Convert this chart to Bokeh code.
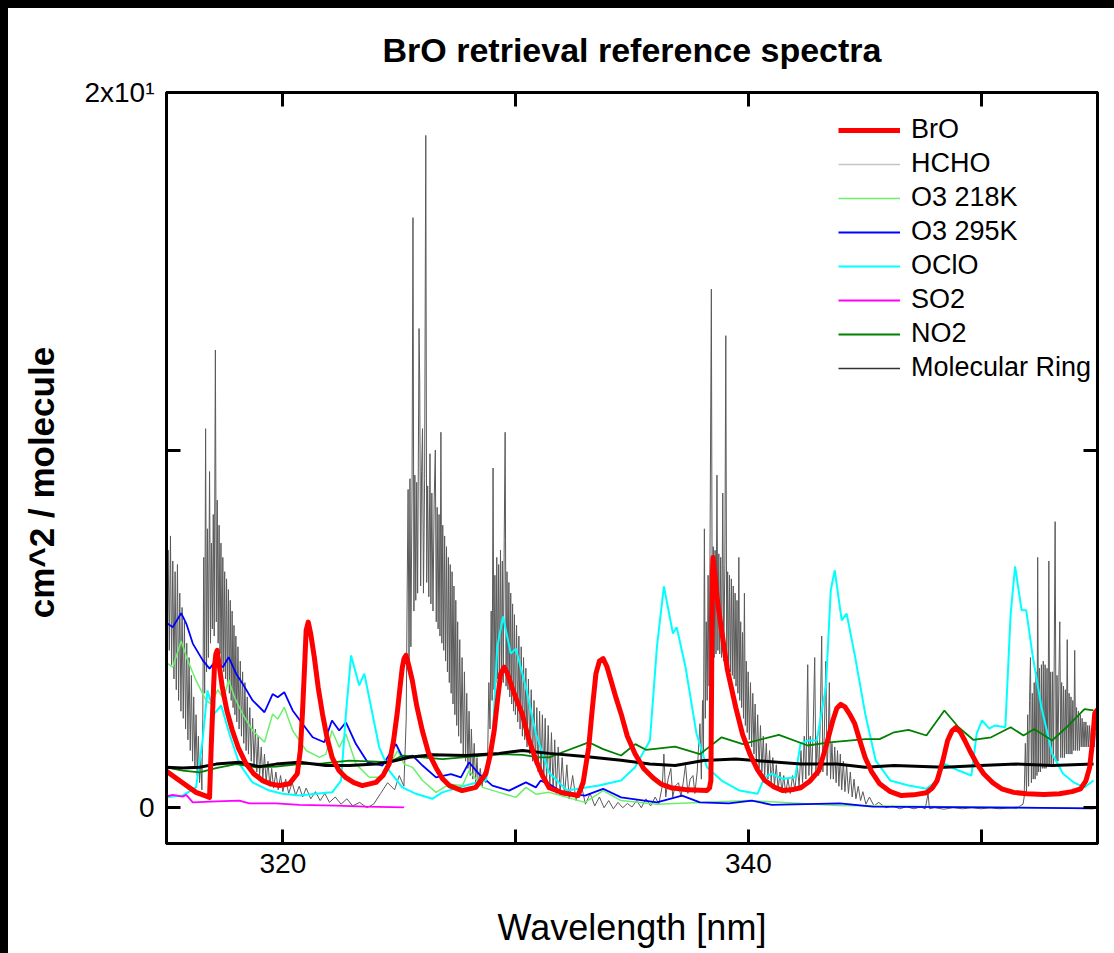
from bokeh.plotting import figure
from bokeh.models import Range1d, FixedTicker, LinearAxis, Legend, LegendItem, CustomLabelingPolicy
from bokeh.embed import file_html
from bokeh.resources import INLINE

FONT = "Liberation Sans"

# ---------------- data (wavelength nm, value) ----------------
bro = [(314.96, 1.04), (315.69, 0.70), (316.27, 0.43), (316.85, 0.29), (316.92, 1.69), (317.00, 3.0),
       (317.06, 3.93), (317.12, 4.30), (317.18, 4.40), (317.25, 4.05), (317.40, 3.36), (317.60, 2.70),
       (317.83, 2.16), (318.10, 1.65), (318.42, 1.23), (318.75, 0.95), (319.12, 0.76), (319.50, 0.66),
       (319.85, 0.62), (320.28, 0.67), (320.62, 0.95), (320.75, 1.6), (320.84, 2.63), (320.93, 3.9),
       (321.00, 4.96), (321.09, 5.19), (321.20, 4.85), (321.35, 4.21), (321.52, 3.35), (321.70, 2.63),
       (321.90, 1.95), (322.12, 1.40), (322.40, 1.05), (322.71, 0.84), (323.05, 0.70), (323.41, 0.62),
       (324.00, 0.71), (324.30, 0.90), (324.57, 1.23), (324.75, 1.85), (324.91, 2.63), (325.03, 3.35),
       (325.13, 3.92), (325.21, 4.18), (325.29, 4.26), (325.40, 4.00), (325.56, 3.56), (325.75, 2.85),
       (325.99, 2.16), (326.25, 1.55), (326.58, 1.12), (326.85, 0.82), (327.15, 0.62), (327.70, 0.48),
       (328.29, 0.57), (328.72, 0.95), (328.90, 1.45), (329.08, 2.16), (329.22, 3.0), (329.36, 3.75),
       (329.51, 3.93), (329.65, 3.75), (329.85, 3.36), (330.05, 3.0), (330.28, 2.63), (330.55, 1.95),
       (330.88, 1.32), (331.15, 0.90), (331.44, 0.56), (332.00, 0.42), (332.68, 0.34), (332.90, 0.7),
       (333.14, 1.69), (333.30, 2.80), (333.45, 3.75), (333.60, 4.10), (333.76, 4.17), (333.92, 3.95),
       (334.10, 3.55), (334.30, 3.10), (334.53, 2.63), (334.80, 2.00), (335.13, 1.51), (335.50, 1.10),
       (335.90, 0.84), (336.25, 0.66), (336.67, 0.56), (337.40, 0.50), (338.22, 0.48), (338.33, 0.55),
       (338.39, 0.76), (338.42, 3.5), (338.45, 6.5), (338.48, 7.00), (338.55, 6.6), (338.65, 5.9),
       (338.85, 4.96), (339.10, 3.85), (339.46, 2.80), (339.75, 2.05), (340.06, 1.51), (340.40, 1.05),
       (340.71, 0.76), (341.10, 0.58), (341.48, 0.48), (341.85, 0.50), (342.25, 0.56), (342.65, 0.75),
       (343.03, 1.04), (343.35, 1.75), (343.63, 2.44), (343.80, 2.78), (343.97, 2.89), (344.15, 2.82),
       (344.35, 2.62), (344.57, 2.35), (344.80, 1.85), (345.02, 1.40), (345.30, 1.00), (345.64, 0.67),
       (346.10, 0.45), (346.57, 0.34), (347.10, 0.36), (347.65, 0.42), (347.90, 0.55), (348.11, 0.76),
       (348.35, 1.30), (348.56, 1.88), (348.75, 2.15), (348.91, 2.24), (349.10, 2.12), (349.30, 1.88),
       (349.51, 1.60), (349.80, 1.25), (350.11, 0.95), (350.50, 0.70), (350.88, 0.53), (351.40, 0.43),
       (351.95, 0.39), (352.70, 0.37), (353.37, 0.39), (353.90, 0.45), (354.27, 0.53), (354.50, 0.75),
       (354.66, 1.12), (354.78, 1.8), (354.88, 2.63), (355.00, 2.75)]

hcho = [(314.97, 7.9), (315.02, 4.9), (315.07, 7.2), (315.12, 4.4), (315.17, 7.6), (315.22, 4.0),
        (315.27, 6.9), (315.32, 3.6), (315.37, 6.6), (315.42, 3.3), (315.47, 6.8), (315.52, 3.0),
        (315.57, 6.0), (315.62, 2.7), (315.67, 5.6), (315.72, 2.5), (315.77, 5.2), (315.82, 2.2),
        (315.87, 4.6), (315.92, 1.9), (315.97, 4.2), (316.02, 1.6), (316.07, 3.7), (316.12, 1.3),
        (316.17, 3.1), (316.22, 1.1), (316.27, 2.6), (316.32, 0.9), (316.37, 2.0), (316.42, 0.7),
        (316.47, 1.4), (316.52, 0.5),
        (316.56, 2.5), (316.60, 7.0), (316.64, 3.2), (316.68, 10.6), (316.72, 3.8), (316.76, 7.8),
        (316.80, 4.2), (316.85, 9.4), (316.89, 4.6), (316.93, 7.4), (316.97, 5.0), (317.01, 8.2),
        (317.05, 4.8), (317.10, 12.8), (317.14, 5.2), (317.18, 8.6), (317.22, 4.6), (317.26, 7.9),
        (317.30, 4.3), (317.34, 7.4), (317.38, 4.0), (317.42, 7.0), (317.46, 3.8), (317.50, 6.6),
        (317.54, 3.6), (317.58, 6.4), (317.62, 3.4), (317.66, 6.1), (317.70, 3.2), (317.74, 5.8),
        (317.78, 3.0), (317.82, 5.5), (317.86, 2.8), (317.90, 5.1), (317.94, 2.6), (317.98, 4.8),
        (318.02, 2.4), (318.07, 4.5), (318.12, 2.2), (318.17, 4.1), (318.22, 2.0), (318.27, 3.8),
        (318.32, 1.8), (318.37, 3.5), (318.42, 1.6), (318.47, 3.1), (318.52, 1.5), (318.58, 2.8),
        (318.64, 1.3), (318.70, 2.5), (318.76, 1.2), (318.82, 2.2), (318.88, 1.0), (318.94, 2.0),
        (319.00, 0.9), (319.07, 1.7), (319.14, 0.8), (319.21, 1.5), (319.28, 0.7), (319.36, 1.3),
        (319.44, 0.6), (319.52, 1.1), (319.60, 0.55), (319.70, 1.0), (319.80, 0.5), (319.90, 0.9),
        (320.00, 0.45), (320.12, 0.8), (320.25, 0.4), (320.40, 0.7), (320.55, 0.35), (320.70, 0.6),
        (320.85, 0.3), (321.00, 0.55), (321.20, 0.25), (321.40, 0.45), (321.60, 0.2), (321.80, 0.4),
        (322.00, 0.15), (322.25, 0.3), (322.50, 0.1), (322.75, 0.25), (323.00, 0.05), (323.30, 0.15),
        (323.60, 0.0), (323.90, 0.1), (324.20, 0.4), (324.50, 0.7), (324.80, 0.5), (325.00, 0.9),
        (325.20, 0.6),
        (325.30, 2.5), (325.34, 6.0), (325.38, 8.9), (325.42, 4.0), (325.46, 9.2), (325.50, 4.5),
        (325.55, 9.0), (325.59, 16.5), (325.63, 5.5), (325.67, 9.3), (325.71, 5.8), (325.75, 9.1),
        (325.79, 6.0), (325.85, 13.4), (325.88, 11.9), (325.92, 6.2), (325.96, 9.4), (326.00, 10.6),
        (326.04, 6.0), (326.09, 9.2), (326.14, 18.8), (326.18, 6.3), (326.22, 9.0), (326.27, 5.9),
        (326.32, 9.9), (326.36, 5.7), (326.40, 8.8), (326.45, 5.5), (326.50, 8.6), (326.55, 10.0),
        (326.59, 5.2), (326.63, 8.4), (326.67, 5.0), (326.71, 8.2), (326.75, 4.8), (326.79, 10.5),
        (326.83, 4.6), (326.87, 7.9), (326.91, 4.4), (326.95, 7.6), (326.99, 4.1), (327.03, 7.3),
        (327.07, 3.8), (327.11, 7.0), (327.15, 3.5), (327.19, 6.8), (327.23, 3.2), (327.27, 6.6),
        (327.31, 2.9), (327.35, 6.2), (327.39, 2.6), (327.43, 5.8), (327.47, 2.3), (327.51, 5.2),
        (327.55, 2.0), (327.60, 4.7), (327.65, 1.8), (327.70, 4.2), (327.75, 1.5), (327.80, 3.8),
        (327.85, 1.3), (327.90, 3.2), (327.95, 1.1), (328.00, 2.7), (328.05, 0.9), (328.10, 2.2),
        (328.16, 0.8), (328.22, 1.8), (328.28, 0.7), (328.34, 1.4), (328.40, 0.6), (328.48, 1.1),
        (328.56, 0.6), (328.64, 1.0), (328.72, 0.7),
        (328.80, 1.5), (328.85, 3.5), (328.90, 2.2), (328.95, 5.5), (328.99, 3.0), (329.03, 9.5),
        (329.07, 3.3), (329.11, 6.5), (329.15, 3.5), (329.19, 7.0), (329.23, 3.6), (329.27, 6.8),
        (329.31, 3.7), (329.35, 7.2), (329.39, 3.6), (329.43, 6.9), (329.47, 3.5), (329.51, 7.5),
        (329.55, 10.5), (329.59, 3.4), (329.63, 6.6), (329.67, 3.3), (329.71, 6.3), (329.75, 3.1),
        (329.79, 6.0), (329.83, 2.9), (329.87, 5.7), (329.91, 2.7), (329.95, 5.4), (329.99, 2.6),
        (330.04, 5.1), (330.09, 2.4), (330.14, 4.8), (330.19, 2.2), (330.24, 4.5), (330.29, 2.0),
        (330.34, 4.2), (330.39, 1.9), (330.44, 3.9), (330.49, 1.7), (330.55, 3.6), (330.61, 1.5),
        (330.67, 3.3), (330.73, 1.3), (330.79, 3.0), (330.85, 1.2), (330.91, 2.8), (330.97, 1.0),
        (331.03, 2.7), (331.09, 0.9), (331.15, 2.6), (331.21, 0.8), (331.27, 2.5), (331.33, 0.7),
        (331.40, 2.3), (331.47, 0.6), (331.54, 2.1), (331.61, 0.5), (331.68, 1.9), (331.75, 0.4),
        (331.83, 1.7), (331.91, 0.35), (332.00, 1.4), (332.10, 0.3), (332.20, 1.2), (332.30, 0.25),
        (332.45, 0.9), (332.60, 0.2), (332.80, 0.7), (333.00, 0.1), (333.20, 0.4), (333.40, 0.05),
        (333.60, 0.3), (333.80, 0.0), (334.00, 0.2), (334.20, -0.03), (334.40, 0.15), (334.60, 0.0),
        (334.80, 0.12), (335.00, 0.02), (335.20, 0.2), (335.40, 0.0), (335.60, 0.25), (335.80, 0.05),
        (336.00, 0.3), (336.15, 0.1), (336.30, 0.6), (336.37, 1.5), (336.45, 0.3), (336.55, 0.8),
        (336.67, 1.1), (336.75, 0.3), (336.85, 0.6), (337.00, 0.7), (337.10, 0.3), (337.20, 0.7),
        (337.30, 1.2), (337.40, 0.4), (337.50, 0.8), (337.62, 0.9), (337.70, 0.4), (337.80, 1.0),
        (337.92, 2.35), (337.98, 0.8), (338.03, 3.0),
        (338.07, 1.5), (338.11, 7.8), (338.15, 2.5), (338.19, 5.2), (338.23, 3.0), (338.27, 6.5),
        (338.31, 3.4), (338.35, 7.0), (338.41, 14.5), (338.45, 4.0), (338.49, 7.3), (338.53, 4.2),
        (338.57, 7.2), (338.61, 4.3), (338.65, 9.3), (338.69, 4.4), (338.73, 7.1), (338.77, 4.3),
        (338.81, 7.0), (338.85, 4.2), (338.90, 8.8), (338.94, 4.1), (338.99, 6.8), (339.03, 13.2),
        (339.07, 4.0), (339.11, 6.6), (339.15, 3.9), (339.19, 6.5), (339.23, 3.8), (339.27, 6.4),
        (339.31, 3.7), (339.35, 6.2), (339.39, 3.6), (339.43, 6.0), (339.47, 3.4), (339.51, 5.8),
        (339.55, 3.2), (339.59, 7.0), (339.63, 3.0), (339.67, 5.2), (339.71, 2.8), (339.75, 4.9),
        (339.79, 2.5), (339.83, 6.0), (339.87, 2.3), (339.91, 4.1), (339.95, 2.1), (339.99, 3.8),
        (340.04, 1.9), (340.09, 3.5), (340.14, 1.7), (340.19, 3.2), (340.24, 1.5), (340.29, 2.9),
        (340.34, 1.3), (340.40, 2.6), (340.46, 1.1), (340.52, 2.3), (340.58, 1.0), (340.64, 2.0),
        (340.70, 0.9), (340.77, 1.8), (340.84, 0.8), (340.91, 1.6), (340.98, 0.7), (341.05, 1.4),
        (341.12, 0.6), (341.20, 1.2), (341.28, 0.5), (341.36, 1.0), (341.44, 0.45), (341.52, 0.9),
        (341.60, 0.4), (341.70, 0.8), (341.80, 0.4), (341.90, 0.9), (342.00, 0.5),
        (342.10, 1.2), (342.18, 0.6), (342.26, 1.6), (342.33, 0.7), (342.40, 2.0), (342.47, 0.8),
        (342.55, 4.0), (342.60, 0.9), (342.66, 2.0), (342.72, 0.9), (342.78, 2.1), (342.85, 4.2),
        (342.90, 1.0), (342.96, 2.0), (343.02, 0.9), (343.08, 2.2), (343.15, 4.8), (343.20, 1.0),
        (343.26, 2.0), (343.33, 4.1), (343.38, 0.9), (343.43, 1.9), (343.48, 3.5), (343.53, 0.8),
        (343.59, 1.8), (343.65, 0.8), (343.71, 1.7), (343.77, 0.7), (343.83, 1.6), (343.89, 0.6),
        (343.95, 1.5), (344.01, 0.5), (344.08, 1.3), (344.15, 0.45), (344.22, 1.2), (344.30, 0.4),
        (344.38, 1.0), (344.46, 0.3), (344.54, 0.8), (344.62, 0.25), (344.72, 0.6), (344.82, 0.2),
        (344.92, 0.45), (345.05, 0.1), (345.20, 0.3), (345.40, 0.05), (345.60, 0.15), (345.90, 0.0),
        (346.20, 0.05), (346.50, -0.03), (346.80, 0.03), (347.10, -0.03), (347.40, 0.02), (347.60, -0.03),
        (347.72, 0.4), (347.78, -0.03), (348.00, 0.0), (348.40, -0.04), (348.80, 0.0), (349.20, -0.03),
        (349.60, 0.0), (350.00, -0.03), (350.40, 0.0), (350.80, -0.03), (351.20, 0.0), (351.60, 0.02),
        (351.80, 0.1),
        (351.85, 0.3), (351.90, 1.8), (351.95, 0.4), (352.00, 2.6), (352.04, 0.6), (352.08, 3.0),
        (352.12, 4.2), (352.16, 0.7), (352.20, 3.2), (352.24, 0.8), (352.28, 3.5), (352.32, 0.8),
        (352.36, 3.8), (352.40, 0.9), (352.43, 7.0), (352.47, 1.0), (352.51, 3.9), (352.55, 1.0),
        (352.59, 4.0), (352.63, 1.1), (352.67, 4.1), (352.71, 1.1), (352.75, 4.0), (352.79, 1.1),
        (352.83, 3.9), (352.87, 1.2), (352.91, 6.9), (352.95, 1.2), (352.99, 3.8), (353.03, 1.2),
        (353.07, 3.8), (353.11, 1.2), (353.18, 8.0), (353.22, 1.3), (353.26, 3.7), (353.30, 1.3),
        (353.34, 3.6), (353.38, 5.2), (353.42, 1.4), (353.46, 3.5), (353.50, 1.4), (353.54, 3.4),
        (353.58, 1.4), (353.62, 3.3), (353.66, 1.5), (353.70, 4.7), (353.74, 1.5), (353.78, 3.2),
        (353.82, 1.5), (353.86, 3.1), (353.90, 1.5), (353.94, 3.0), (353.98, 1.6), (354.02, 4.4),
        (354.06, 1.6), (354.10, 2.8), (354.14, 1.6), (354.18, 2.7), (354.22, 1.6), (354.26, 2.6),
        (354.30, 1.7), (354.34, 2.5), (354.38, 1.7), (354.42, 2.4), (354.46, 1.7), (354.50, 2.4),
        (354.54, 1.7), (354.58, 2.3), (354.62, 1.7), (354.66, 2.3), (354.70, 1.7), (354.74, 2.2),
        (354.78, 1.7), (354.82, 2.2), (354.86, 1.7), (354.90, 2.1)]

o3_218 = [(314.96, 4.07), (315.27, 3.93), (315.63, 4.66), (315.91, 4.12), (316.27, 3.56), (316.70, 3.00),
          (316.92, 2.90), (317.20, 3.30), (317.45, 3.04), (317.67, 3.58), (317.92, 3.09), (318.27, 2.62),
          (318.70, 2.16), (319.21, 1.83), (319.56, 2.62), (319.78, 2.48), (320.06, 2.81), (320.42, 2.16),
          (321.00, 1.60), (321.57, 1.41), (321.85, 1.50), (322.11, 2.16), (322.42, 1.69), (322.71, 2.06),
          (323.14, 1.22), (323.71, 0.85), (324.28, 0.85), (324.93, 1.60), (325.21, 1.22), (325.57, 1.13),
          (326.00, 0.76), (326.58, 0.43), (327.15, 0.66), (327.72, 0.62), (328.00, 1.04), (328.58, 0.57),
          (329.29, 0.43), (330.01, 0.29), (330.44, 0.57), (330.87, 0.38), (331.44, 0.43), (332.21, 0.29),
          (332.98, 0.15), (333.76, 0.48), (334.53, 0.20), (336.07, 0.10), (340.06, 0.20), (343.80, 0.06),
          (354.83, -0.02)]

o3_295 = [(314.96, 5.19), (315.27, 5.05), (315.63, 5.44), (315.85, 5.15), (316.13, 4.59), (316.56, 4.12),
          (316.85, 3.89), (317.13, 4.12), (317.42, 3.93), (317.67, 4.21), (317.99, 3.75), (318.27, 3.47),
          (318.70, 3.00), (319.21, 2.67), (319.56, 3.18), (319.78, 3.09), (320.06, 3.23), (320.42, 2.72),
          (320.85, 2.34), (321.28, 1.97), (321.78, 1.83), (322.11, 2.44), (322.42, 2.16), (322.71, 2.39),
          (323.14, 1.78), (323.64, 1.27), (324.28, 1.18), (324.86, 1.78), (325.14, 1.41), (325.57, 1.46),
          (326.00, 1.18), (326.58, 0.85), (327.22, 0.94), (327.65, 0.85), (328.00, 1.27), (328.43, 0.94),
          (329.00, 0.62), (329.72, 0.48), (330.44, 0.71), (330.87, 0.57), (331.08, 0.76), (331.44, 0.66),
          (332.04, 0.42), (332.98, 0.34), (333.76, 0.53), (334.53, 0.29), (336.07, 0.15), (337.15, 0.34),
          (337.92, 0.15), (339.16, 0.12), (340.15, 0.20), (341.01, 0.08), (343.93, 0.12), (345.34, 0.03),
          (349.98, 0.01), (354.83, -0.02)]

oclo = [(314.96, 0.29), (315.69, 0.34), (316.27, 0.57), (316.55, 1.88), (316.76, 3.28), (317.06, 2.63),
        (317.35, 2.86), (317.70, 2.07), (318.13, 1.23), (318.69, 0.71), (319.42, 0.48), (319.98, 0.39),
        (320.71, 0.34), (321.42, 0.39), (322.12, 0.43), (322.50, 0.76), (322.71, 2.63), (322.93, 4.26),
        (323.28, 3.42), (323.50, 3.75), (323.79, 2.81), (324.14, 1.69), (324.57, 1.04), (325.13, 0.57),
        (325.72, 0.39), (326.42, 0.25), (326.85, 0.43), (327.58, 0.57), (328.13, 0.67), (328.72, 0.76),
        (328.99, 1.69), (329.21, 4.49), (329.46, 5.35), (329.79, 4.31), (330.01, 4.45), (330.44, 3.37),
        (330.87, 2.07), (331.44, 0.98), (332.21, 0.48), (333.58, 0.62), (334.53, 0.76), (335.13, 1.13),
        (335.77, 1.88), (336.07, 4.49), (336.37, 6.19), (336.76, 4.87), (336.92, 5.05), (337.30, 3.93),
        (337.77, 2.07), (338.22, 1.13), (338.85, 0.76), (339.62, 0.48), (340.39, 0.39), (340.70, 0.85),
        (341.01, 0.95), (341.47, 0.81), (342.01, 0.85), (342.24, 1.79), (342.55, 1.88), (342.94, 1.88),
        (343.33, 3.37), (343.54, 6.08), (343.71, 6.64), (344.01, 5.24), (344.22, 5.43), (344.56, 4.31),
        (345.02, 2.63), (345.47, 1.32), (346.10, 0.76), (346.88, 0.62), (347.65, 0.53), (348.11, 0.76),
        (348.42, 1.23), (349.03, 1.04), (349.58, 0.90), (349.81, 2.07), (350.04, 2.44), (350.35, 2.21),
        (350.58, 2.30), (351.04, 2.25), (351.27, 5.43), (351.46, 6.75), (351.74, 5.52), (351.94, 5.52),
        (352.20, 4.31), (352.59, 2.81), (353.05, 1.51), (353.52, 0.95), (353.97, 0.71), (354.44, 0.57),
        (354.83, 0.76)]

so2 = [(314.96, 0.31), (315.27, 0.36), (315.69, 0.31), (315.85, 0.36), (316.13, 0.15), (317.13, 0.18),
       (318.13, 0.20), (318.56, 0.12), (319.71, 0.12), (320.71, 0.08), (322.28, 0.06), (323.57, 0.03),
       (325.21, 0.01)]

no2 = [(314.96, 1.13), (315.70, 1.04), (316.42, 0.99), (317.13, 1.11), (317.99, 1.22), (318.85, 1.13),
       (319.71, 1.15), (320.71, 1.22), (321.71, 1.24), (322.85, 1.32), (324.00, 1.29), (324.57, 1.27),
       (325.14, 1.46), (326.00, 1.41), (326.86, 1.36), (327.72, 1.41), (328.58, 1.46), (329.43, 1.50),
       (330.29, 1.48), (331.01, 1.41), (331.44, 1.41), (332.21, 1.60), (333.14, 1.83), (333.76, 1.64),
       (334.53, 1.46), (335.14, 1.78), (335.60, 1.62), (336.85, 1.71), (337.92, 1.50), (338.85, 1.97),
       (339.76, 1.78), (341.31, 2.04), (342.55, 1.74), (343.48, 1.83), (345.02, 1.92), (345.64, 1.92),
       (346.26, 2.11), (346.88, 2.18), (347.65, 2.02), (348.42, 2.72), (349.03, 2.25), (349.66, 1.90),
       (350.43, 1.97), (351.27, 2.25), (351.82, 2.02), (352.28, 2.20), (353.05, 1.88), (353.67, 2.25),
       (354.44, 2.76), (354.83, 2.72)]

ring = [(314.96, 1.13), (315.69, 1.11), (316.42, 1.13), (317.13, 1.22), (318.13, 1.27), (318.99, 1.15),
        (319.71, 1.22), (320.71, 1.27), (321.85, 1.18), (322.85, 1.18), (324.00, 1.22), (324.71, 1.30),
        (325.43, 1.41), (326.43, 1.48), (327.86, 1.46), (329.29, 1.52), (330.29, 1.60), (331.44, 1.52),
        (332.98, 1.43), (334.53, 1.33), (335.76, 1.22), (336.85, 1.18), (338.08, 1.32), (339.46, 1.36),
        (340.71, 1.30), (342.25, 1.22), (343.80, 1.22), (345.02, 1.13), (346.26, 1.18), (348.42, 1.13),
        (349.97, 1.18), (351.51, 1.22), (353.05, 1.18), (354.83, 1.22)]

series_names = ["BrO", "HCHO", "O3 218K", "O3 295K", "OClO", "SO2", "NO2", "Molecular Ring"]
x_ticks = [320, 330, 340, 350]
y_ticks = [0, 10, 20]
y_tick_labels = {20: "2x10\u00b9"}


def split(pairs):
    return [a for a, _ in pairs], [b for _, b in pairs]


# the page's dark strips along the top and left edges are an 8px CSS border on the figure;
# the canvas keeps the full 1114x953 size and the last 8px on the right/bottom fall outside
p = figure(width=1114, height=953, x_range=Range1d(315, 355), y_range=Range1d(-1, 20),
           output_backend="svg", toolbar_location=None,
           min_border_left=158, min_border_right=25, min_border_top=84, min_border_bottom=118,
           x_axis_label="Wavelength [nm]",
           y_axis_label="cm^2 / molecule\u00a0\u00a0\u00a0",
           title="BrO retrieval reference spectra")
p.styles = {"border-top": "8px solid #000000", "border-left": "8px solid #000000"}
p.background_fill_color = "white"
p.border_fill_color = "white"
p.outline_line_color = "black"
p.outline_line_width = 3
p.grid.visible = False

bottom_ax = p.below[0]
left_ax = p.left[0]

p.title.align = "center"
p.title.text_font = FONT
p.title.text_font_size = "34px"
p.title.text_font_style = "bold"
p.title.text_color = "black"
p.title.standoff = 40

top_ax = LinearAxis()
right_ax = LinearAxis()
p.add_layout(top_ax, "above")
p.add_layout(right_ax, "right")

for ax in [bottom_ax, top_ax]:
    ax.ticker = FixedTicker(ticks=x_ticks)
for ax in [left_ax, right_ax]:
    ax.ticker = FixedTicker(ticks=y_ticks)

for ax in [bottom_ax, top_ax, left_ax, right_ax]:
    ax.axis_line_width = 3
    ax.axis_line_color = "black"
    ax.major_tick_in = 14
    ax.major_tick_out = 0
    ax.major_tick_line_width = 3
    ax.major_tick_line_color = "black"
    ax.minor_tick_line_color = None
    ax.major_label_text_font = FONT
    ax.major_label_text_font_size = "28px"
    ax.major_label_text_color = "black"

no_labels = CustomLabelingPolicy(code="return []")
even_labels = CustomLabelingPolicy(code="for (const i of indices) { if (i % 2 == 0) yield i }")
for ax in [top_ax, right_ax]:
    ax.major_label_policy = no_labels
    ax.major_label_text_font_size = "2px"
    ax.major_label_standoff = 0

bottom_ax.major_label_policy = even_labels
bottom_ax.major_label_standoff = 10
left_ax.major_label_policy = even_labels
left_ax.major_label_overrides = y_tick_labels
left_ax.major_label_standoff = 12

bottom_ax.axis_label_text_font = FONT
bottom_ax.axis_label_text_font_size = "36px"
bottom_ax.axis_label_text_font_style = "normal"
bottom_ax.axis_label_text_color = "black"
bottom_ax.axis_label_standoff = 31

left_ax.axis_label_text_font = FONT
left_ax.axis_label_text_font_size = "35px"
left_ax.axis_label_text_font_style = "bold"
left_ax.axis_label_text_color = "black"
left_ax.axis_label_standoff = 20

x, y = split(hcho)
r_hcho = p.line(x, y, line_color="#5a5a5a", line_width=1, line_join="bevel")
x, y = split(o3_218)
r_o3c = p.line(x, y, line_color="#6cf06c", line_width=1.5)
x, y = split(o3_295)
r_o3w = p.line(x, y, line_color="#0000ff", line_width=1.8)
x, y = split(oclo)
r_oclo = p.line(x, y, line_color="#00ffff", line_width=2)
x, y = split(so2)
r_so2 = p.line(x, y, line_color="#ff00ff", line_width=1.8)
x, y = split(no2)
r_no2 = p.line(x, y, line_color="#008000", line_width=1.8)
x, y = split(ring)
r_ring = p.line(x, y, line_color="black", line_width=3)
x, y = split(bro)
r_bro = p.line(x, y, line_color="#ff0000", line_width=5, line_join="round")

# legend swatches for the two series whose plotted look differs from their key (no visible data)
nan = float("nan")
k_hcho = p.line([nan], [nan], line_color="#c4c4c4", line_width=1.5)
k_ring = p.line([nan], [nan], line_color="#333333", line_width=1.5)

renderers = [r_bro, k_hcho, r_o3c, r_o3w, r_oclo, r_so2, r_no2, k_ring]
legend = Legend(items=[LegendItem(label=n, renderers=[r]) for n, r in zip(series_names, renderers)],
                location=(672, 460), orientation="vertical",
                glyph_width=62, glyph_height=30, label_height=30, spacing=3,
                padding=0, margin=0, label_standoff=11,
                label_text_font=FONT, label_text_font_size="27px", label_text_color="black",
                background_fill_alpha=0, border_line_color=None)
p.add_layout(legend)

open("out.html", "w").write(file_html(p, INLINE))
